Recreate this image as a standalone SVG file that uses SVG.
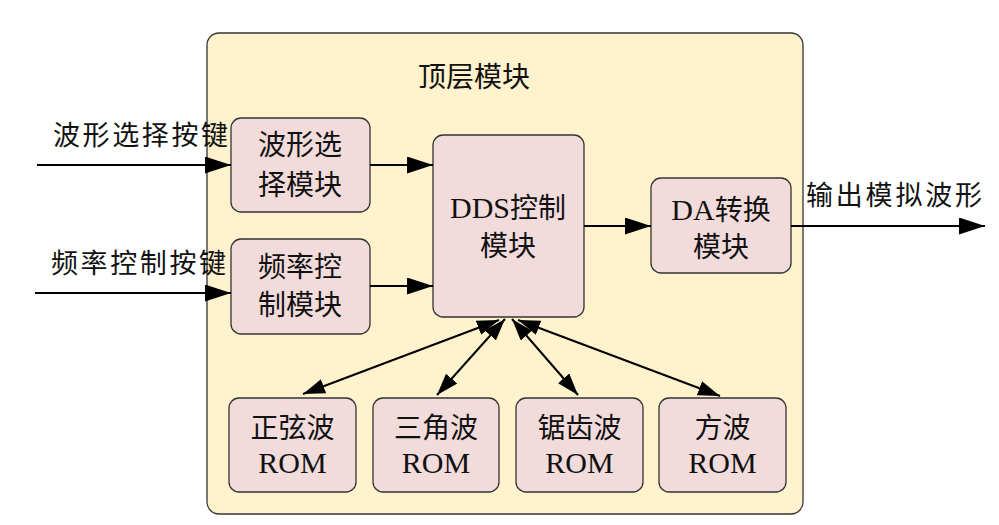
<svg xmlns="http://www.w3.org/2000/svg" width="999" height="525" viewBox="0 0 999 525">
<style>
.bg{fill:#fff}
.outer{fill:#FFF2CC;stroke:#333;stroke-width:1.3}
.node{fill:#F2DCDB;stroke:#333;stroke-width:1.3}
.t{font-family:"Liberation Serif","Noto Sans CJK SC",serif;font-size:28px;fill:#111;text-anchor:middle}
.en{font-size:30px}
.lbl{font-family:"Noto Sans CJK SC",sans-serif;font-size:27px;fill:#111}
.edge{stroke:#000;stroke-width:2;fill:none}
.a{marker-end:url(#ah)}
.b{marker-end:url(#ah2);marker-start:url(#ah2)}
</style>
<defs>
<marker id="ah" viewBox="0 0 26 17" refX="26" refY="8.5" markerWidth="26" markerHeight="17" markerUnits="userSpaceOnUse" orient="auto">
<path d="M0,0 L26,8.5 L0,17 Z" fill="#000"/>
</marker>
<marker id="ah2" viewBox="0 0 22 15" refX="22" refY="7.5" markerWidth="22" markerHeight="15" markerUnits="userSpaceOnUse" orient="auto-start-reverse">
<path d="M0,0 L22,7.5 L0,15 Z" fill="#000"/>
</marker>
</defs>
<rect class="bg" x="0" y="0" width="999" height="525"/>
<g id="top">
<rect class="outer" x="207" y="33" width="596" height="481" rx="12"/>
<text class="t" x="474" y="87">顶层模块</text>
</g>
<g id="wave-select">
<rect class="node" x="231" y="118" width="139" height="94" rx="10"/>
<text class="t" x="300" y="155">波形选</text>
<text class="t" x="300" y="195">择模块</text>
</g>
<g id="freq-ctrl">
<rect class="node" x="231" y="239" width="139" height="95" rx="10"/>
<text class="t" x="300" y="277">频率控</text>
<text class="t" x="300" y="315">制模块</text>
</g>
<g id="dds">
<rect class="node" x="433" y="135" width="151" height="182" rx="10"/>
<text class="t" x="508" y="218"><tspan class="en">DDS</tspan>控制</text>
<text class="t" x="508" y="256">模块</text>
</g>
<g id="da">
<rect class="node" x="651" y="178" width="140" height="95" rx="10"/>
<text class="t" x="721" y="220"><tspan class="en">DA</tspan>转换</text>
<text class="t" x="721" y="257">模块</text>
</g>
<g id="rom-sin">
<rect class="node" x="229" y="398" width="127" height="94" rx="10"/>
<text class="t" x="292.5" y="438">正弦波</text>
<text class="t en" x="292.5" y="473">ROM</text>
</g>
<g id="rom-tri">
<rect class="node" x="373" y="398" width="126" height="94" rx="10"/>
<text class="t" x="436" y="438">三角波</text>
<text class="t en" x="436" y="473">ROM</text>
</g>
<g id="rom-saw">
<rect class="node" x="516" y="398" width="127" height="94" rx="10"/>
<text class="t" x="579.5" y="438">锯齿波</text>
<text class="t en" x="579.5" y="473">ROM</text>
</g>
<g id="rom-sq">
<rect class="node" x="659" y="398" width="127" height="94" rx="10"/>
<text class="t" x="722.5" y="438">方波</text>
<text class="t en" x="722.5" y="473">ROM</text>
</g>
<g id="labels">
<text class="lbl" x="53" y="145" textLength="175" lengthAdjust="spacing">波形选择按键</text>
<text class="lbl" x="51" y="273" textLength="175" lengthAdjust="spacing">频率控制按键</text>
<text class="lbl" x="806" y="205" textLength="176" lengthAdjust="spacing">输出模拟波形</text>
</g>
<g id="connectors">
<line class="edge a" x1="37" y1="165" x2="231" y2="165"/>
<line class="edge a" x1="35" y1="293" x2="231" y2="293"/>
<line class="edge a" x1="370" y1="165" x2="433" y2="165"/>
<line class="edge a" x1="370" y1="286" x2="433" y2="286"/>
<line class="edge a" x1="584" y1="226" x2="651" y2="226"/>
<line class="edge a" x1="791" y1="226" x2="985" y2="226"/>
<line class="edge b" x1="303" y1="394" x2="499" y2="320"/>
<line class="edge b" x1="437" y1="395" x2="505" y2="319"/>
<line class="edge b" x1="578" y1="395" x2="512" y2="319"/>
<line class="edge b" x1="720" y1="396" x2="518" y2="320"/>
</g>
</svg>
